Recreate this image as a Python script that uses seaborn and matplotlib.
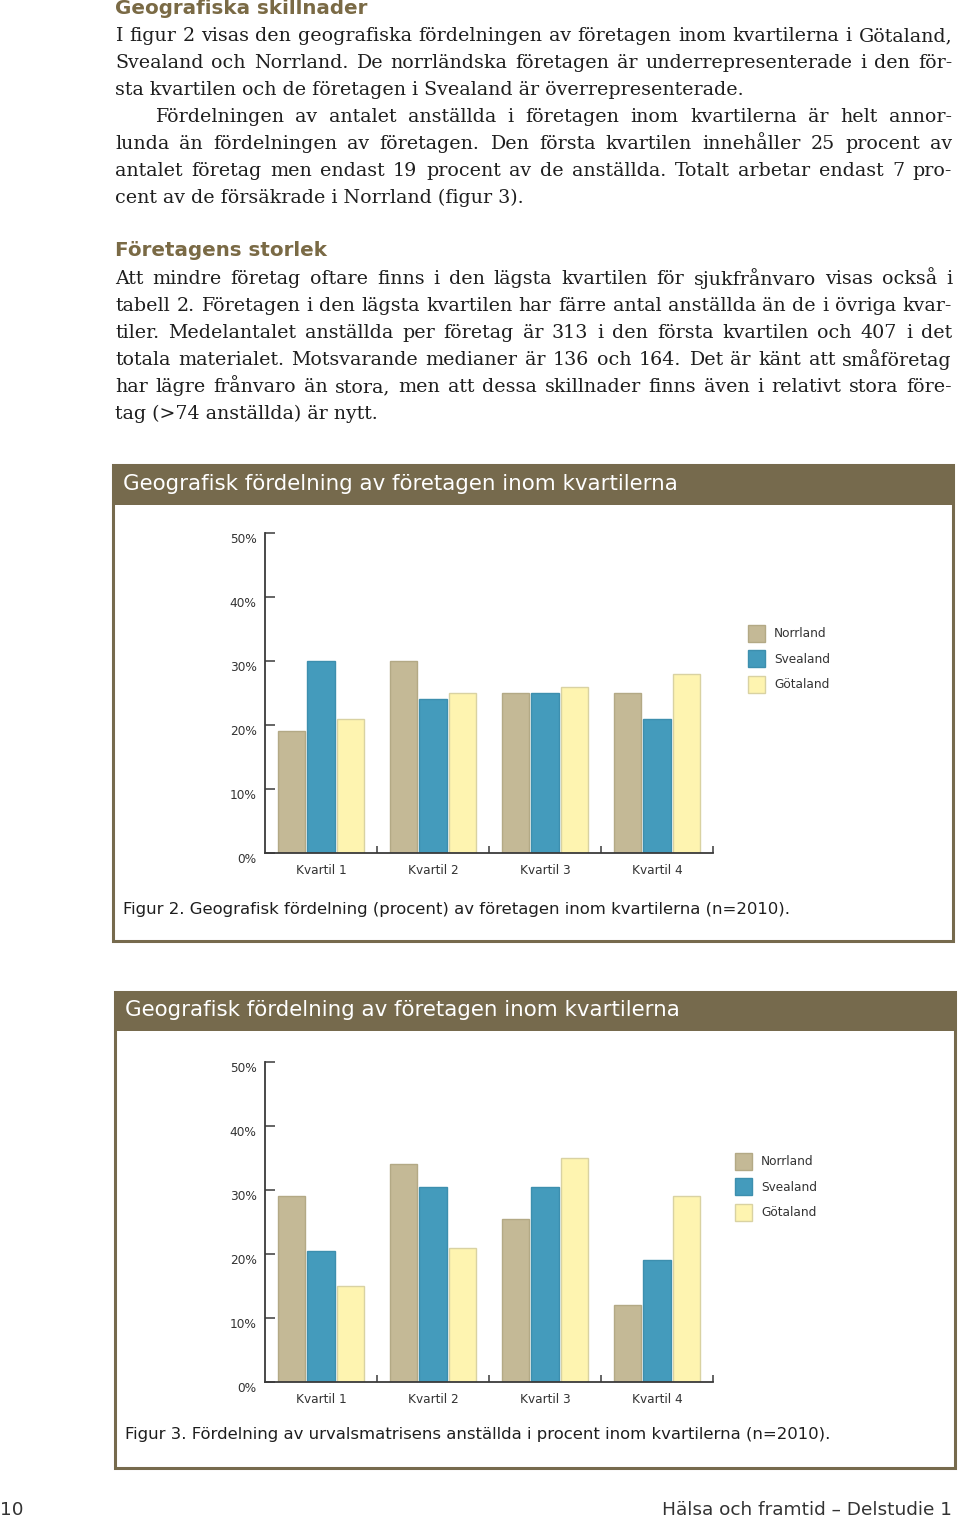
import matplotlib
matplotlib.use("Agg")
import matplotlib.pyplot as plt
import seaborn as sns
import pandas as pd
from matplotlib.patches import Rectangle, Patch
from matplotlib.font_manager import FontProperties
from matplotlib.ticker import FixedLocator

# ---------------- data ----------------
quartiles = ["Kvartil 1", "Kvartil 2", "Kvartil 3", "Kvartil 4"]
regions = ["Norrland", "Svealand", "Götaland"]

fig2_norrland = [19, 30, 25, 25]
fig2_svealand = [30, 24, 25, 21]
fig2_gotaland = [21, 25, 26, 28]

fig3_norrland = [29, 34, 25.5, 12]
fig3_svealand = [20.5, 30.5, 30.5, 19]
fig3_gotaland = [15, 21, 35, 29]

y_ticks = [0, 10, 20, 30, 40, 50]
y_ticklabels = ["0%", "10%", "20%", "30%", "40%", "50%"]

chart_title = "Geografisk fördelning av företagen inom kvartilerna"
caption2 = "Figur 2. Geografisk fördelning (procent) av företagen inom kvartilerna (n=2010)."
caption3 = "Figur 3. Fördelning av urvalsmatrisens anställda i procent inom kvartilerna (n=2010)."

heading1 = "Geografiska skillnader"
para1 = [
    "I figur 2 visas den geografiska fördelningen av företagen inom kvartilerna i Götaland,",
    "Svealand och Norrland. De norrländska företagen är underrepresenterade i den för-",
    "sta kvartilen och de företagen i Svealand är överrepresenterade.",
]
para2 = [
    "Fördelningen av antalet anställda i företagen inom kvartilerna är helt annor-",
    "lunda än fördelningen av företagen. Den första kvartilen innehåller 25 procent av",
    "antalet företag men endast 19 procent av de anställda. Totalt arbetar endast 7 pro-",
    "cent av de försäkrade i Norrland (figur 3).",
]
heading2 = "Företagens storlek"
para3 = [
    "Att mindre företag oftare finns i den lägsta kvartilen för sjukfrånvaro visas också i",
    "tabell 2. Företagen i den lägsta kvartilen har färre antal anställda än de i övriga kvar-",
    "tiler. Medelantalet anställda per företag är 313 i den första kvartilen och 407 i det",
    "totala materialet. Motsvarande medianer är 136 och 164. Det är känt att småföretag",
    "har lägre frånvaro än stora, men att dessa skillnader finns även i relativt stora före-",
    "tag (>74 anställda) är nytt.",
]
footer_left = "10"
footer_right = "Hälsa och framtid – Delstudie 1"

# ---------------- style ----------------
sns.set_theme(style="white")
plt.rcParams["font.family"] = ["DejaVu Sans"]

W, H = 960, 1520
fig = plt.figure(figsize=(W / 100, H / 100), dpi=100)
fig.patch.set_facecolor("white")


def fx(x):
    return x / W


def fy(y):
    return 1 - y / H


colors = {"Norrland": "#c4b996", "Svealand": "#449bbc", "Götaland": "#fef4b0"}
edges = {"Norrland": "#b3a985", "Svealand": "#3d8fae", "Götaland": "#d9d2a2"}
brown = "#766a4d"
head_col = "#7a6a45"
txt_col = "#1e1e1e"

# ---------------- body text ----------------
renderer = fig.canvas.get_renderer()


def text_width(s, fp):
    w, h, d = renderer.get_text_width_height_descent(s, fp, ismath=False)
    return w


# scale the serif so that an unjustified line has the same width as on the page
SERIF = "DejaVu Serif"
_probe = FontProperties(family=SERIF, size=10)
_target = 743 - 115
body_size = 10 * _target / text_width(para1[-1], _probe)
body_fp = FontProperties(family=SERIF, size=body_size)
head_fp = FontProperties(family="DejaVu Sans", weight="bold", size=14.3)


def draw_line(line, x0, x1, y, justify):
    words = line.split(" ")
    if not justify or len(words) < 2:
        fig.text(fx(x0), fy(y), line, fontproperties=body_fp, color=txt_col,
                 va="center", ha="left")
        return
    widths = [text_width(w, body_fp) for w in words]
    gap = (x1 - x0 - sum(widths)) / (len(words) - 1)
    x = x0
    for w, wd in zip(words, widths):
        fig.text(fx(x), fy(y), w, fontproperties=body_fp, color=txt_col,
                 va="center", ha="left")
        x += wd + gap


def draw_para(lines, y0, x0=115, x1=952, indent=0, step=27):
    for i, ln in enumerate(lines):
        xs = x0 + (indent if i == 0 else 0)
        draw_line(ln, xs, x1, y0 + i * step, justify=(i < len(lines) - 1))


fig.text(fx(115), fy(9), heading1, fontproperties=head_fp, color=head_col,
         va="center", ha="left")
draw_para(para1, 36)
draw_para(para2, 117, indent=40)
fig.text(fx(115), fy(251), heading2, fontproperties=head_fp, color=head_col,
         va="center", ha="left")
draw_para(para3, 279)


# ---------------- chart boxes ----------------
def chart_box(left, right, top, bottom, header_bottom, title, caption, cap_y):
    fig.add_artist(Rectangle((fx(left), fy(bottom)), (right - left) / W,
                             (bottom - top) / H, transform=fig.transFigure,
                             fill=False, edgecolor=brown, lw=2.2, zorder=0))
    fig.add_artist(Rectangle((fx(left - 1), fy(header_bottom)), (right - left + 2) / W,
                             (header_bottom - top) / H, transform=fig.transFigure,
                             facecolor=brown, edgecolor="none", zorder=0))
    fig.text(fx(left + 10), fy((top + header_bottom) / 2 - 1), title, color="white",
             fontsize=15.4, va="center", ha="left")
    fig.text(fx(left + 10), fy(cap_y), caption, color=txt_col, fontsize=11.85,
             va="center", ha="left")


chart_box(113, 953, 465, 941, 505, chart_title, caption2, 909)
chart_box(115, 955, 992, 1468, 1031, chart_title, caption3, 1434)

TICK_FS = 8.7


def bar_chart(ax_rect, norr, svea, gota, legend_xy):
    ax = fig.add_axes(ax_rect)
    ax.set_facecolor("none")
    df = pd.DataFrame({
        "Kvartil": quartiles * 3,
        "Region": [r for r in regions for _ in quartiles],
        "Andel": list(norr) + list(svea) + list(gota),
    })
    sns.barplot(data=df, x="Kvartil", y="Andel", hue="Region", order=quartiles,
                hue_order=regions, palette=colors, saturation=1, width=0.78, gap=0.07,
                errorbar=None, linewidth=1.0, legend=False, ax=ax)
    for cont, r in zip(ax.containers, regions):
        for b in cont:
            b.set_edgecolor(edges[r])
    ax.set_xlim(-0.5, 3.5)
    ax.set_ylim(0, 50)
    ax.set_xlabel("")
    ax.set_ylabel("")
    for s in ["top", "right"]:
        ax.spines[s].set_visible(False)
    for s in ["left", "bottom"]:
        ax.spines[s].set_color("#3a3a3a")
        ax.spines[s].set_linewidth(1.3)
    ax.set_yticks(y_ticks)
    ax.set_yticklabels(y_ticklabels)
    ax.tick_params(axis="y", direction="in", length=7.5, width=1.1, color="#3a3a3a",
                   labelsize=TICK_FS, labelcolor="#333333", pad=6, left=True)
    ax.tick_params(axis="x", which="major", length=0, labelsize=TICK_FS,
                   labelcolor="#333333", pad=8, bottom=True)
    ax.xaxis.set_minor_locator(FixedLocator([0.5, 1.5, 2.5, 3.5]))
    ax.tick_params(axis="x", which="minor", direction="in", length=5, width=1.1,
                   color="#3a3a3a", bottom=True)
    for lbl in ax.get_yticklabels():
        lbl.set_verticalalignment("top")
    handles = [Patch(facecolor=colors[r], edgecolor=edges[r], label=r) for r in regions]
    fig.legend(handles=handles, loc="upper left",
               bbox_to_anchor=(fx(legend_xy[0]), fy(legend_xy[1])),
               frameon=False, fontsize=TICK_FS, handlelength=1.4, handleheight=1.76,
               handletextpad=0.75, labelspacing=0.72, borderpad=0, borderaxespad=0,
               labelcolor="#333333")
    return ax


bar_chart([fx(265), fy(853), 448 / W, 320 / H],
          fig2_norrland, fig2_svealand, fig2_gotaland, (748, 625))
bar_chart([fx(265), fy(1382), 448 / W, 320 / H],
          fig3_norrland, fig3_svealand, fig3_gotaland, (735, 1153))

# ---------------- footer ----------------
fig.text(fx(0), fy(1510), footer_left, fontsize=13.3, color="#333333",
         va="center", ha="left")
fig.text(fx(952), fy(1510), footer_right, fontsize=13.3, color="#333333",
         va="center", ha="right")

fig.savefig("out.png", dpi=100)
